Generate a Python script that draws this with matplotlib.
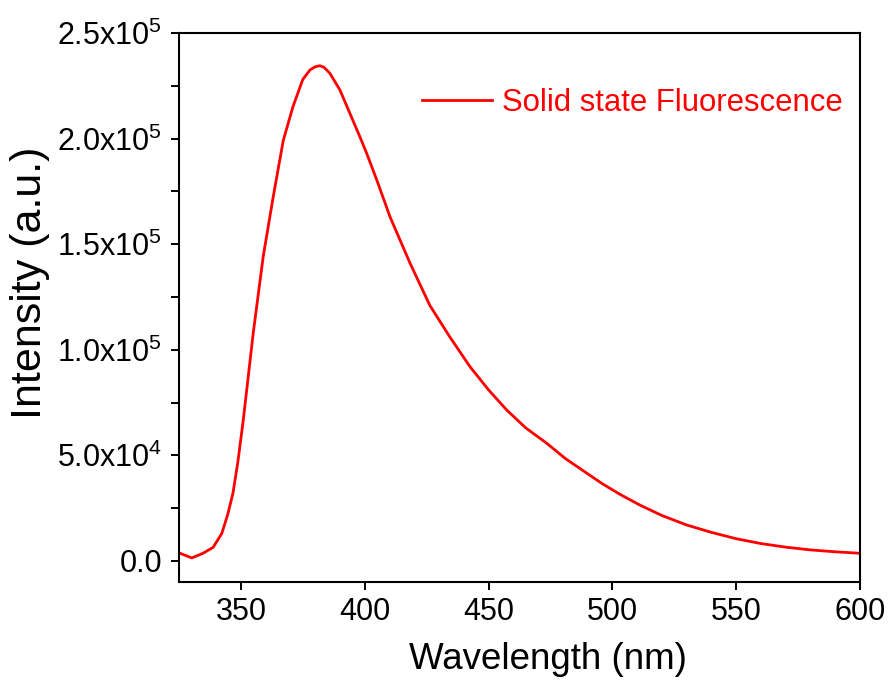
import matplotlib
matplotlib.use("Agg")
import matplotlib.pyplot as plt
from matplotlib.ticker import MultipleLocator, FixedLocator, FixedFormatter

# ============================================================
# DATA
# ============================================================

wavelength = [325, 330.2, 334.7, 338.8, 342.3, 344.7, 346.8, 348.8, 350.9,
              355.0, 359.0, 363.0, 367.1, 371.0, 375.0, 377.9, 380.0, 381.9,
              383.5, 385.9, 390.0, 394.0, 398.0, 400.8, 405.0, 410.2, 418.3,
              426.3, 434.4, 442.5, 450.0, 457.3, 465.0, 473.5, 481.0, 489.7,
              496.0, 503.1, 511.0, 520.0, 530.0, 540.0, 550.0, 560.0, 570.0,
              580.0, 590.0, 600.0]
intensity = [3.8e3, 1.4e3, 3.6e3, 6.4e3, 1.3e4, 2.2e4, 3.2e4, 4.7e4, 6.6e4,
             1.08e5, 1.44e5, 1.72e5, 1.99e5, 2.15e5, 2.28e5, 2.325e5, 2.34e5,
             2.345e5, 2.338e5, 2.31e5, 2.23e5, 2.12e5, 2.01e5, 1.93e5, 1.80e5,
             1.63e5, 1.41e5, 1.21e5, 1.06e5, 9.2e4, 8.1e4, 7.15e4, 6.3e4,
             5.57e4, 4.85e4, 4.15e4, 3.65e4, 3.15e4, 2.65e4, 2.15e4, 1.7e4,
             1.35e4, 1.05e4, 8.2e3, 6.5e3, 5.2e3, 4.3e3, 3.6e3]

series_label = "Solid state Fluorescence"
x_ticks = [350, 400, 450, 500, 550, 600]
y_ticks = [0, 5e4, 1e5, 1.5e5, 2e5, 2.5e5]
y_tick_labels = ["0.0", r"5.0x10$^{4}$", r"1.0x10$^{5}$", r"1.5x10$^{5}$",
                 r"2.0x10$^{5}$", r"2.5x10$^{5}$"]

# ============================================================
# STYLE
# ============================================================

plt.rcParams["font.family"] = ["Liberation Sans", "DejaVu Sans"]
plt.rcParams["mathtext.fontset"] = "custom"
plt.rcParams["mathtext.rm"] = "Liberation Sans"
plt.rcParams["mathtext.it"] = "Liberation Sans"
plt.rcParams["mathtext.bf"] = "Liberation Sans"

fig = plt.figure(figsize=(8.89, 6.86), dpi=100)
ax = fig.add_axes([0.2013, 0.1516, 0.7661, 0.8003])

ax.plot(wavelength, intensity, color="#ff0000", lw=2.0, label=series_label)

ax.set_xlim(325, 600)
ax.set_ylim(-1.0e4, 2.5e5)

ax.xaxis.set_major_locator(FixedLocator(x_ticks))
ax.yaxis.set_major_locator(FixedLocator(y_ticks))
ax.yaxis.set_major_formatter(FixedFormatter(y_tick_labels))
ax.yaxis.set_minor_locator(MultipleLocator(2.5e4))

ax.tick_params(axis="both", which="both", direction="out", length=6,
               width=1.4, labelsize=22, top=False, right=False)
ax.tick_params(axis="x", pad=5)
ax.tick_params(axis="y", pad=6)

for sp in ax.spines.values():
    sp.set_linewidth(1.5)

ax.set_xlabel("Wavelength (nm)", fontsize=26.5)
ax.set_ylabel("Intensity (a.u.)", fontsize=31)
# labels sit a bit off-centre in the original
ax.xaxis.set_label_coords(0.542, -0.109)
ax.yaxis.set_label_coords(-0.19, 0.545)

ax.legend(loc="center right", bbox_to_anchor=(0.974, 0.872), frameon=False,
          fontsize=22.4, labelcolor="#ff0000", handlelength=2.25,
          handletextpad=0.32, borderpad=0, borderaxespad=0)

fig.savefig("out.png", dpi=100)
